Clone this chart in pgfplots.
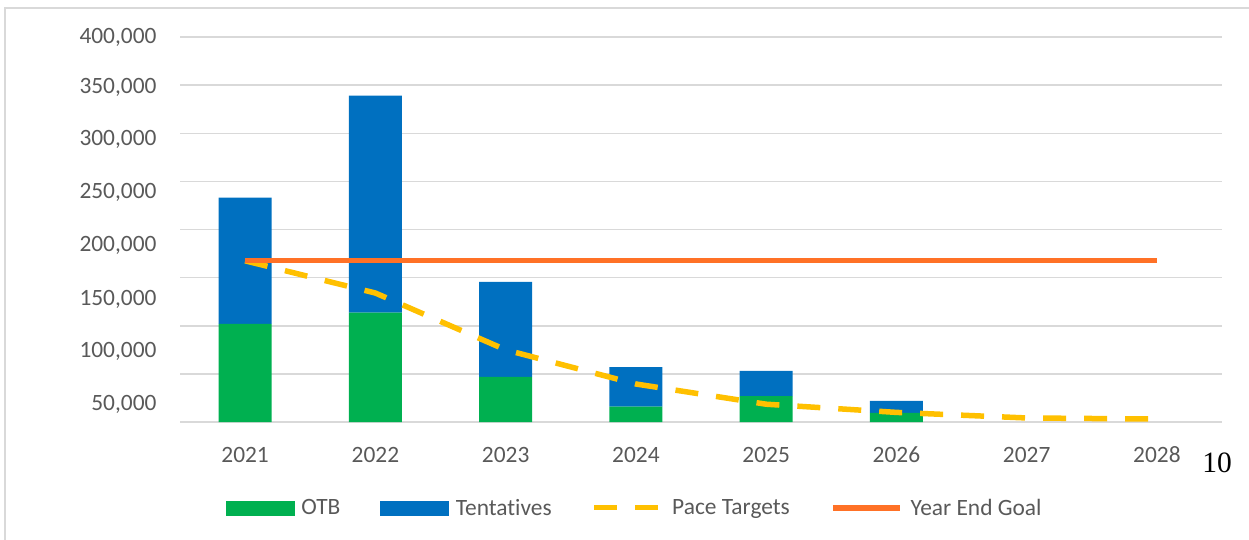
\documentclass[border=0pt]{standalone}
\usepackage{fontspec}
\setmainfont{Carlito}[Ligatures=NoCommon]
\newfontfamily\serifnum{Liberation Serif}
\usepackage{pgfplots}
\usepackage{pgfplotstable}
\pgfplotsset{compat=1.18}
\definecolor{otb}{HTML}{00B050}
\definecolor{tent}{HTML}{0070C0}
\definecolor{pace}{HTML}{FFC000}
\definecolor{goal}{HTML}{FF7126}
\definecolor{gridc}{HTML}{D9D9D9}
\definecolor{lab}{HTML}{595959}

\pgfplotstableread{
x otb tent pace goal
0 102000 131000 167500 168000
1 113600 225400 134000 168000
2 47000 98500 75000 168000
3 16000 41000 39500 168000
4 27000 26000 18500 168000
5 9500 12500 10000 168000
6 0 0 4200 168000
7 0 0 3100 168000
}\datatable

\begin{document}
\begin{tikzpicture}
\useasboundingbox (0pt,0pt) rectangle (1249pt,-539pt);
\draw[gridc, line width=1.5pt] (5pt,-545pt) -- (5pt,-8pt) -- (1260pt,-8pt);

\begin{axis}[
  at={(180pt,-422pt)}, anchor=south west,
  scale only axis, width=1042pt, height=385pt,
  xmin=-0.5, xmax=7.5, ymin=0, ymax=400000,
  ybar stacked, bar width=53pt,
  axis line style={draw=none},
  major tick length=0pt,
  xtick={0,1,2,3,4,5,6,7},
  xticklabels={2021,2022,2023,2024,2025,2026,2027,2028},
  ytick={0,50000,100000,150000,200000,250000,300000,350000,400000},
  yticklabels={},
  ymajorgrids, grid style={gridc, line width=1.5pt},
  extra y ticks={400000,348052,294026,238234,183169,127792,73247,18494},
  extra y tick labels={{400,000},{350,000},{300,000},{250,000},{200,000},{150,000},{100,000},{50,000}},
  extra y tick style={grid=none, major tick length=0pt},
  scaled y ticks=false,
  tick label style={font=\fontsize{23.4}{28}\selectfont, text=lab, inner sep=0pt},
  xticklabel style={anchor=north, yshift=-24.7pt},
  yticklabel style={anchor=east, xshift=-23.3pt},
]
\addplot[fill=otb, draw=none] table[x=x, y=otb] {\datatable};
\addplot[fill=tent, draw=none] table[x=x, y=tent] {\datatable};
\end{axis}

\begin{axis}[
  at={(180pt,-422pt)}, anchor=south west,
  scale only axis, width=1042pt, height=385pt,
  xmin=-0.5, xmax=7.5, ymin=0, ymax=400000,
  hide axis,
  legend columns=4,
  legend cell align=left,
  legend style={
    at={(axis description cs:0.04415,-0.2233)}, anchor=west,
    draw=none, fill=none, inner sep=0pt, outer sep=0pt,
    font=\fontsize{23.4}{28}\selectfont, text=lab,
    column sep=7pt,
    nodes={inner sep=0pt},
    /tikz/every even column/.append style={column sep=40pt},
  },
]
\addlegendimage{legend image code/.code={\path (0pt,-7pt) (68pt,7pt); \fill[otb] (0pt,-7pt) rectangle (68pt,7pt);}}
\addlegendentry{OTB}
\addlegendimage{legend image code/.code={\path (0pt,-7pt) (68pt,7pt); \fill[tent] (0pt,-7pt) rectangle (68pt,7pt);}}
\addlegendentry{Tentatives}
\addplot[pace, line width=5.5pt, dash pattern=on 23pt off 18pt,
  legend image code/.code={\path (0pt,-7pt) (68pt,7pt); \draw[pace, line width=5pt, dash pattern=on 23pt off 18pt] (0pt,0pt) -- (65pt,0pt);}]
  table[x=x, y=pace] {\datatable};
\addlegendentry{Pace Targets}
\addplot[goal, line width=5.5pt,
  legend image code/.code={\path (0pt,-7pt) (68pt,7pt); \draw[goal, line width=6pt] (0pt,0pt) -- (67pt,0pt);}]
  table[x=x, y=goal] {\datatable};
\addlegendentry{Year End Goal}
\end{axis}

\node[font=\serifnum\fontsize{29.5}{34}\selectfont, text=black, inner sep=0pt] at (1217pt,-463pt) {10};
\end{tikzpicture}
\end{document}
